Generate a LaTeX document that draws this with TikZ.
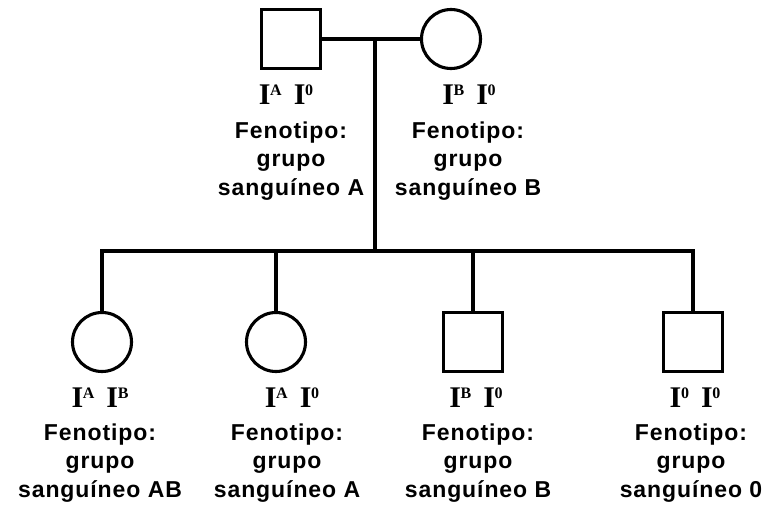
\documentclass[tikz,border=0pt]{standalone}
\usepackage{fontspec}
\setmainfont{Liberation Sans}
\newfontfamily\genfont{Liberation Serif}
\newfontfamily\labfont[LetterSpace=4]{Liberation Sans}
\newcommand{\supx}[1]{\raisebox{9pt}{\fontsize{16}{16}\selectfont #1}}
\newcommand{\geno}[2]{I\kern-0.3pt\supx{#1}\hspace{12pt}I\kern-0.3pt\supx{#2}}
\tikzset{
  line/.style={line width=3.1pt},
  male/.style={draw, line width=3.1pt, rectangle, minimum size=59pt, inner sep=0pt},
  female/.style={draw, line width=3.1pt, circle, minimum size=59pt, inner sep=0pt},
  gen/.style={font=\genfont\bfseries\fontsize{30}{32}\selectfont, anchor=base, inner sep=0pt},
  lab/.style={font=\labfont\bfseries\fontsize{23}{28.5}\selectfont, align=center, anchor=north, inner sep=0pt}
}
\begin{document}
\begin{tikzpicture}[x=1pt,y=-1pt]
\useasboundingbox (0,0) rectangle (770,506);
% parents
\node[male] (f) at (291,39) {};
\node[female] (m) at (451,39) {};
\coordinate (mid) at (375,39);
\coordinate (sib) at (375,251);
\draw[line] (f.east) -- (m.west);
\draw[line] (mid) -- (sib);
% children
\node[female] (c1) at (102,342) {};
\node[female] (c2) at (276,342) {};
\node[male] (c3) at (473,342) {};
\node[male] (c4) at (693,342) {};
\draw[line] (c1.north) -- (c1.north |- sib) -- (c4.north |- sib) -- (c4.north);
\draw[line] (c2.north) -- (c2.north |- sib);
\draw[line] (c3.north) -- (c3.north |- sib);
% genotypes
\node[gen] (gf) at (286,104) {\geno{A}{0}};
\node[gen] (gm) at (469,104) {\geno{B}{0}};
\node[gen] (g1) at (100,407) {\geno{A}{B}};
\node[gen] (g2) at (292,407) {\geno{A}{0}};
\node[gen] (g3) at (476,407) {\geno{B}{0}};
\node[gen] (g4) at (695,407) {\geno{0}{0}};
% phenotypes
\node[lab] (pf) at (291,121.5) {Fenotipo:\\grupo\\sanguíneo A};
\node[lab] (pm) at (468,121.5) {Fenotipo:\\grupo\\sanguíneo B};
\node[lab] (p1) at (100,423.5) {Fenotipo:\\grupo\\sanguíneo AB};
\node[lab] (p2) at (287,423.5) {Fenotipo:\\grupo\\sanguíneo A};
\node[lab] (p3) at (478,423.5) {Fenotipo:\\grupo\\sanguíneo B};
\node[lab] (p4) at (691,423.5) {Fenotipo:\\grupo\\sanguíneo 0};
\end{tikzpicture}
\end{document}
